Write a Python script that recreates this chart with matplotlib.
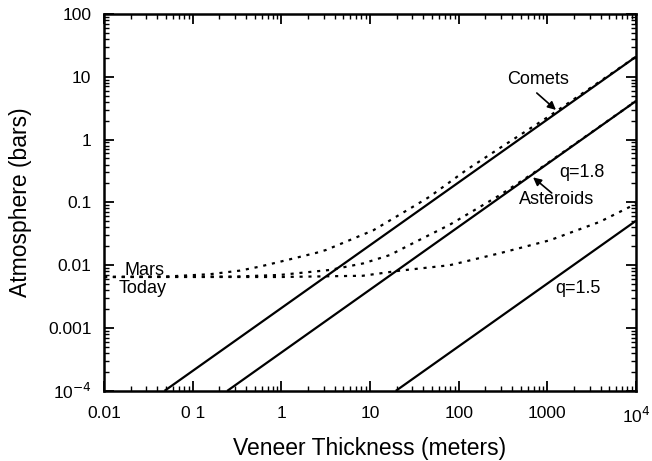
import matplotlib.pyplot as plt

plt.rcParams['font.family'] = ['Liberation Sans', 'DejaVu Sans']

# solid lines (end points)
comets_x = [0.048, 1e4]
comets_y = [1e-4, 20.8]
aster_x = [0.245, 1e4]
aster_y = [1e-4, 4.1]
q15_x = [19.5, 1e4]
q15_y = [1e-4, 0.051]

# dotted curves (Mars today + veneer)
dot_comets_x = [0.01, 0.05, 0.157, 0.34, 0.57, 1.0, 2.5, 3.2, 10.9, 33, 47, 123, 290, 1000, 1e4]
dot_comets_y = [0.0065, 0.0066, 0.0072, 0.0082, 0.0095, 0.0115, 0.0158, 0.0175, 0.036, 0.091, 0.123, 0.33, 0.73, 2.25, 20.8]
dot_aster_x = [0.01, 0.3, 0.96, 3.5, 8.4, 16.7, 21.7, 33, 79, 290, 690, 1e4]
dot_aster_y = [0.0065, 0.0066, 0.0070, 0.0084, 0.0107, 0.0145, 0.0175, 0.0237, 0.044, 0.13, 0.29, 4.1]
dot_q15_x = [0.01, 1.0, 8.3, 21.7, 79, 290, 1070, 3900, 1e4]
dot_q15_y = [0.0065, 0.0065, 0.0068, 0.0082, 0.010, 0.0155, 0.025, 0.049, 0.095]

xticks = [0.01, 0.1, 1, 10, 100, 1000, 1e4]
xlabels = ['0.01', '0 1', '1', '10', '100', '1000', '10$^4$']
yticks = [1e-4, 1e-3, 0.01, 0.1, 1, 10, 100]
ylabels = ['10$^{-4}$', '0.001', '0.01', '0.1', '1', '10', '100']

fig = plt.figure(figsize=(6.52, 4.61), dpi=100)
ax = fig.add_axes([0.1595, 0.152, 0.816, 0.818])

for x, y in [(comets_x, comets_y), (aster_x, aster_y), (q15_x, q15_y)]:
    ax.plot(x, y, color='black', lw=1.6, solid_capstyle='butt')

for x, y in [(dot_comets_x, dot_comets_y), (dot_aster_x, dot_aster_y), (dot_q15_x, dot_q15_y)]:
    ax.plot(x, y, color='black', lw=1.6, linestyle=(0, (1.4, 2.6)))

ax.set_xscale('log')
ax.set_yscale('log')
ax.set_xlim(0.01, 1e4)
ax.set_ylim(1e-4, 100)
ax.set_xticks(xticks)
ax.set_xticklabels(xlabels)
ax.set_yticks(yticks)
ax.set_yticklabels(ylabels)
ax.tick_params(which='both', direction='in', top=True, right=True, labelsize=12.5)
ax.tick_params(which='major', length=7, width=1.3)
ax.tick_params(axis='x', which='major', pad=11)
ax.tick_params(axis='y', which='major', pad=9)
ax.tick_params(which='minor', length=3.5, width=1.0)
for s in ax.spines.values():
    s.set_linewidth(1.8)

ax.set_xlabel('Veneer Thickness (meters)', fontsize=16.5)
ax.set_ylabel('Atmosphere (bars)', fontsize=16.5)
ax.xaxis.set_label_coords(0.5, -0.122)
ax.yaxis.set_label_coords(-0.135, 0.5)

# annotations
arrow = dict(arrowstyle='-|>', color='black', lw=1.2, shrinkA=0, shrinkB=0,
             mutation_scale=12)
ax.text(776, 8.9, 'Comets', fontsize=13, ha='center', va='center')
ax.annotate('', xy=(1250, 2.96), xytext=(760, 5.5), arrowprops=arrow)
ax.text(1280, 0.11, 'Asteroids', fontsize=13, ha='center', va='center')
ax.annotate('', xy=(690, 0.25), xytext=(1120, 0.141), arrowprops=arrow)
ax.text(2450, 0.295, 'q=1.8', fontsize=13, ha='center', va='center')
ax.text(2200, 0.0042, 'q=1.5', fontsize=13, ha='center', va='center')
ax.text(0.029, 0.0081, 'Mars', fontsize=13, ha='center', va='center')
ax.text(0.0276, 0.0042, 'Today', fontsize=13, ha='center', va='center')

fig.savefig('out.png', dpi=100)
